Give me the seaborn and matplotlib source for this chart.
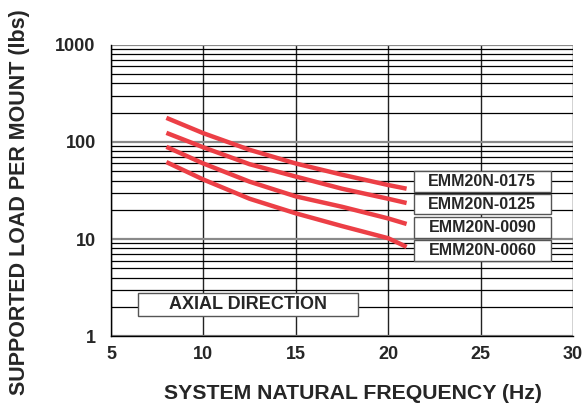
import numpy as np
import pandas as pd
import matplotlib
matplotlib.use("Agg")
import matplotlib.pyplot as plt
import seaborn as sns
from matplotlib.patches import Rectangle
from matplotlib.ticker import FixedLocator, MultipleLocator, NullFormatter

## DATA
freq = [8, 10, 12.5, 15, 17.5, 20, 21]
load_0175 = [177, 123, 83, 60, 46, 36, 33]
load_0125 = [124, 88, 59, 44, 33, 26, 23.5]
load_0090 = [89, 60, 39, 27.5, 21.5, 16.3, 14.3]
load_0060 = [62, 41, 26, 18.4, 13.6, 10.2, 8.3]
models = ["EMM20N-0175", "EMM20N-0125", "EMM20N-0090", "EMM20N-0060"]
x_ticks = [5, 10, 15, 20, 25, 30]
y_ticks = [1, 10, 100, 1000]

rows = []
for name, vals in zip(models, [load_0175, load_0125, load_0090, load_0060]):
    for f, v in zip(freq, vals):
        rows.append({"freq": f, "load": v, "model": name})
df = pd.DataFrame(rows)

sns.set_style("white")
plt.rcParams["font.family"] = ["Liberation Sans", "DejaVu Sans"]
plt.rcParams["font.weight"] = "bold"

fig = plt.figure(figsize=(5.84, 4.04), dpi=100)
ax = fig.add_axes([0.190, 0.168, 0.791, 0.721])

red = "#EC3F46"
sns.lineplot(data=df, x="freq", y="load", hue="model", palette=[red] * 4,
             linewidth=3.2, legend=False, ax=ax, solid_capstyle="butt")

ax.set_yscale("log")
ax.set_xlim(5, 30)
ax.set_ylim(1, 1000)

# grid
ax.yaxis.set_major_locator(FixedLocator(y_ticks))
ax.yaxis.set_minor_locator(FixedLocator([m * 10 ** e for e in range(0, 3) for m in range(2, 10)]))
ax.yaxis.set_minor_formatter(NullFormatter())
ax.set_yticks(y_ticks, [str(t) for t in y_ticks])
ax.set_xticks(x_ticks, [str(t) for t in x_ticks])
ax.xaxis.set_minor_locator(MultipleLocator(0.5))
ax.grid(axis="y", which="major", color="#8a8a8a", linewidth=1.6)
ax.grid(axis="y", which="minor", color="black", linewidth=0.9)
ax.grid(axis="x", which="major", color="#222222", linewidth=1.0)
ax.set_axisbelow(True)

for s in ["top", "right"]:
    ax.spines[s].set_visible(False)
for s in ["left", "bottom"]:
    ax.spines[s].set_color("black")
    ax.spines[s].set_linewidth(1.0)

ax.tick_params(axis="y", which="major", direction="out", length=6, width=1.5,
               color="#8a8a8a", labelsize=13, pad=5)
ax.tick_params(axis="y", which="minor", length=0)
ax.tick_params(axis="x", which="major", direction="in", length=4, width=1,
               labelsize=13, pad=7)
ax.tick_params(axis="x", which="minor", direction="in", length=2.5, width=0.8)
for lab in ax.get_xticklabels() + ax.get_yticklabels():
    lab.set_fontweight("bold")

ax.set_xlabel("SYSTEM NATURAL FREQUENCY (Hz)", fontsize=15.3, fontweight="bold")
ax.set_ylabel("SUPPORTED LOAD PER MOUNT (lbs)", fontsize=15.5, fontweight="bold")
ax.xaxis.set_label_coords(0.523, -0.163)
ax.yaxis.set_label_coords(-0.175, 0.46)

# model label boxes
box_y = [(0.495, 0.567), (0.419, 0.488), (0.337, 0.409), (0.258, 0.330)]
for name, (y0, y1) in zip(models, box_y):
    ax.add_patch(Rectangle((0.656, y0), 0.296, y1 - y0, transform=ax.transAxes,
                           facecolor="white", edgecolor="#555555", linewidth=1.0,
                           zorder=5))
    ax.text(0.804, (y0 + y1) / 2, name, transform=ax.transAxes, ha="center",
            va="center", fontsize=11.5, fontweight="bold", zorder=6)

ax.add_patch(Rectangle((0.058, 0.069), 0.477, 0.078, transform=ax.transAxes,
                       facecolor="white", edgecolor="#555555", linewidth=1.0,
                       zorder=5))
ax.text(0.2965, 0.108, "AXIAL DIRECTION", transform=ax.transAxes, ha="center",
        va="center", fontsize=13, fontweight="bold", zorder=6)

fig.savefig("out.png", dpi=100)
